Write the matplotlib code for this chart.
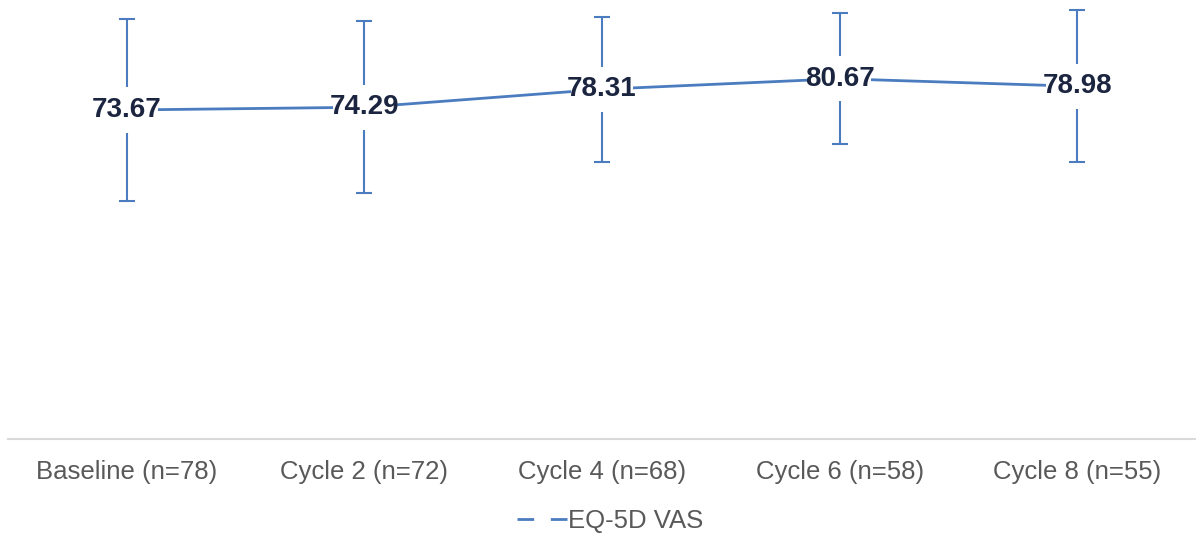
import matplotlib
matplotlib.use("Agg")
from matplotlib import pyplot as plt
from matplotlib.lines import Line2D

# data
cats = ["Baseline (n=78)", "Cycle 2 (n=72)", "Cycle 4 (n=68)", "Cycle 6 (n=58)", "Cycle 8 (n=55)"]
vas_mean = [73.67, 74.29, 78.31, 80.67, 78.98]
vas_sd = [20.4, 19.2, 16.2, 14.7, 17.0]

blue = "#4a7cbf"
plt.rcParams['font.family'] = ['Liberation Sans', 'DejaVu Sans']

fig = plt.figure(figsize=(11.96, 5.33), dpi=100)
ax = fig.add_axes([8 / 1196, 94 / 533, 1 - 8 / 1196, 439 / 533])

xs = list(range(len(cats)))
ax.errorbar(xs, vas_mean, yerr=vas_sd, fmt='none', ecolor=blue,
            elinewidth=1.5, capsize=6, capthick=1.5, zorder=1)

# white gap in the error bars behind each label
for i, m in enumerate(vas_mean):
    ax.text(i, m, "%.2f" % m, ha='center', va='center', fontsize=20,
            fontweight='bold', color='none',
            bbox=dict(fc='white', ec='none', pad=7), zorder=2)

ax.plot(xs, vas_mean, color=blue, lw=2, zorder=3)

for i, m in enumerate(vas_mean):
    ax.text(i, m, "%.2f" % m, ha='center', va='center', fontsize=20,
            fontweight='bold', color='#1b2540',
            bbox=dict(fc='white', ec='none', pad=-2.5), zorder=4)

ax.set_xlim(-0.5, 4.5)
ax.set_ylim(0, 98.3)
ax.set_xticks(xs)
ax.set_xticklabels(cats, fontsize=18.5, color='#595959')
ax.tick_params(axis='x', length=0, pad=15)
ax.set_yticks([])
for s in ['top', 'right', 'left']:
    ax.spines[s].set_visible(False)
ax.spines['bottom'].set_color('#d9d9d9')
ax.spines['bottom'].set_linewidth(1.5)

h = Line2D([], [], color=blue, lw=2, linestyle=(0, (6, 6)))
fig.legend([h], ["EQ-5D VAS"], loc='center', bbox_to_anchor=(0.51, 12 / 533),
           frameon=False, fontsize=18.5, labelcolor='#595959',
           handlelength=2.0, handletextpad=0.0)

fig.savefig("out.png", dpi=100)
